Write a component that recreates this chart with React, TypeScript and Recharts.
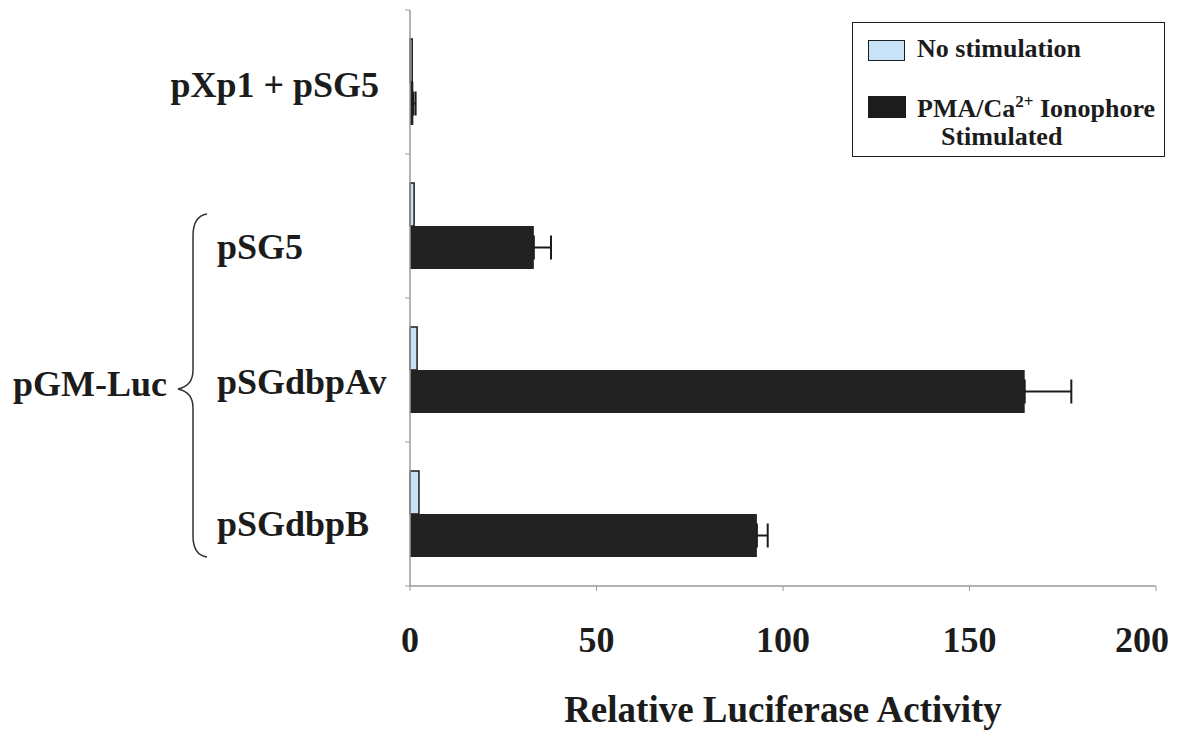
import { BarChart, Bar, XAxis, YAxis, ErrorBar } from "recharts";

const categories = ["pXp1 + pSG5", "pSG5", "pSGdbpAv", "pSGdbpB"];
const noStimulation = [0.6, 1.1, 1.9, 2.4];
const stimulated = [0.9, 33.2, 164.8, 93];
const stimulatedErr = [0.6, 4.6, 12.5, 2.9];
const xTicks = [0, 50, 100, 150, 200];

const data = categories.map((name, i) => ({
  name,
  noStim: noStimulation[i],
  stim: stimulated[i],
  err: [0, stimulatedErr[i]],
}));

const SERIF = '"Liberation Serif", "Times New Roman", serif';
const AXIS_GREY = "#9a9a9a";
const INK = "#1c1c1c";
const LIGHT_BLUE = "#c8e2f7";

const W = 1179;
const H = 734;
const AXIS_X = 410;
const TOP = 10;
const X_AXIS_H = 148;
const BAND = (H - TOP - X_AXIS_H) / categories.length;

// per-label placement relative to the band centre
const labelStyle: Record<string, { anchor: "start" | "end"; x: number; dy: number }> = {
  "pXp1 + pSG5": { anchor: "end", x: 379, dy: 15 },
  pSG5: { anchor: "start", x: 217, dy: 33 },
  pSGdbpAv: { anchor: "start", x: 217, dy: 24 },
  pSGdbpB: { anchor: "start", x: 217, dy: 22 },
};

function CategoryTick({ y, payload, index }: any) {
  const s = labelStyle[payload.value] ?? { anchor: "end", x: AXIS_X - 20, dy: 12 };
  const top = y - BAND / 2;
  return (
    <g>
      <line x1={AXIS_X - 5} x2={AXIS_X} y1={top} y2={top} stroke={AXIS_GREY} />
      {index === categories.length - 1 && (
        <line x1={AXIS_X - 5} x2={AXIS_X} y1={top + BAND} y2={top + BAND} stroke={AXIS_GREY} />
      )}
      <text x={s.x} y={y + s.dy} textAnchor={s.anchor} fontFamily={SERIF} fontWeight={700} fontSize={36} fill={INK}>
        {payload.value}
      </text>
    </g>
  );
}

function ValueTick({ x, y, payload }: any) {
  // last label sits a little inside the right edge, as in the original
  const dx = payload.value === xTicks[xTicks.length - 1] ? -14 : 0;
  return (
    <text x={x + dx} y={y + 59} textAnchor="middle" fontFamily={SERIF} fontWeight={700} fontSize={36} fill={INK}>
      {payload.value}
    </text>
  );
}

function LegendBox() {
  const txt = { position: "absolute" as const, lineHeight: 1, whiteSpace: "nowrap" as const };
  return (
    <div
      style={{
        position: "absolute",
        left: 852,
        top: 22,
        width: 313,
        height: 135,
        boxSizing: "border-box",
        border: `1.5px solid ${INK}`,
        background: "#fff",
        fontFamily: SERIF,
        fontWeight: 700,
        fontSize: 26,
        color: INK,
      }}
    >
      <div style={{ position: "absolute", left: 15, top: 17, width: 35, height: 19, background: LIGHT_BLUE, border: `1.5px solid ${INK}` }} />
      <div style={{ ...txt, left: 64, top: 13 }}>No stimulation</div>
      <div style={{ position: "absolute", left: 15, top: 73, width: 38, height: 22, background: INK }} />
      <div style={{ ...txt, left: 64, top: 73 }}>
        PMA/Ca<sup style={{ fontSize: 17, lineHeight: 0 }}>2+</sup> Ionophore
      </div>
      <div style={{ ...txt, left: 88, top: 101 }}>Stimulated</div>
    </div>
  );
}

export default function App() {
  return (
    <div style={{ position: "absolute", left: 0, top: 0, width: W, height: H, background: "#fff" }}>
      <BarChart
        width={W}
        height={H}
        data={data}
        layout="vertical"
        margin={{ top: TOP, right: 23, bottom: 0, left: 0 }}
        barGap={0}
      >
        <XAxis
          type="number"
          domain={[0, 200]}
          ticks={xTicks}
          height={X_AXIS_H}
          axisLine={{ stroke: AXIS_GREY, strokeWidth: 1.5 }}
          tickLine={{ stroke: AXIS_GREY }}
          tickSize={5}
          tick={<ValueTick />}
          label={{
            value: "Relative Luciferase Activity",
            position: "insideBottom",
            offset: 12,
            style: { fontFamily: SERIF, fontWeight: 700, fontSize: 37, fill: INK },
          }}
        />
        <YAxis
          type="category"
          dataKey="name"
          width={AXIS_X}
          axisLine={{ stroke: AXIS_GREY, strokeWidth: 1.5 }}
          tickLine={false}
          tick={<CategoryTick />}
          interval={0}
        />
        <Bar dataKey="noStim" name="No stimulation" barSize={43} fill={LIGHT_BLUE} stroke={INK} strokeWidth={1.5} isAnimationActive={false} />
        <Bar dataKey="stim" name="PMA/Ca2+ Ionophore Stimulated" barSize={43} fill="#222222" isAnimationActive={false}>
          <ErrorBar dataKey="err" direction="x" width={12} stroke={INK} strokeWidth={2} isAnimationActive={false} />
        </Bar>
      </BarChart>
      <LegendBox />
      <svg width={W} height={H} style={{ position: "absolute", left: 0, top: 0, pointerEvents: "none" }}>
        <path
          d="M 207 214 Q 193 216 193 236 L 193 370 Q 193 386 178 389 Q 193 392 193 408 L 193 536 Q 193 555 207 557"
          fill="none"
          stroke="#333"
          strokeWidth={1.5}
        />
        <text x={13} y={396} fontFamily={SERIF} fontWeight={700} fontSize={36} fill={INK}>
          pGM-Luc
        </text>
      </svg>
    </div>
  );
}
